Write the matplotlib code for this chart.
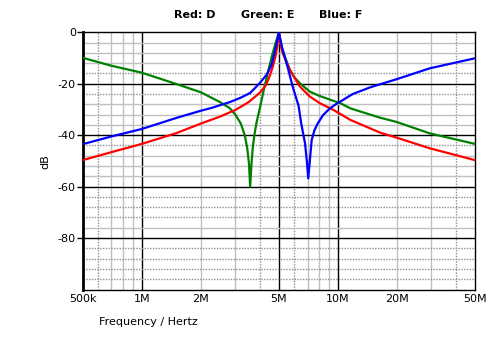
import numpy as np
import matplotlib
matplotlib.use("Agg")
import matplotlib.pyplot as plt

# frequencies in Hz, levels in dB
red_f = [5e5, 7e5, 1e6, 1.5e6, 2e6, 2.5e6, 3e6, 3.5e6, 4e6, 4.3e6, 4.5e6,
         4.65e6, 4.8e6, 4.9e6, 5e6, 5.1e6, 5.2e6, 5.45e6, 5.7e6, 6e6, 6.4e6,
         7.2e6, 8.1e6, 9.5e6, 11.6e6, 16.4e6, 20e6, 29.4e6, 5e7]
red_db = [-49.7, -46.6, -43.4, -39.2, -35.5, -32.8, -30.2, -27.2, -23.5, -20.5, -16.8,
          -13.5, -9.5, -6.0, 0, -4.5, -7.5, -11.5, -14.7, -17.5, -21.1,
          -25.0, -27.6, -30.2, -34.1, -39.0, -41.0, -45.1, -49.7]

green_f = [5e5, 7e5, 1e6, 1.5e6, 2e6, 2.5e6, 2.8e6, 3.0e6, 3.2e6, 3.35e6, 3.45e6,
           3.52e6, 3.57e6, 3.62e6, 3.68e6, 3.75e6, 3.85e6, 4.0e6, 4.2e6, 4.4e6,
           4.6e6, 4.8e6, 5e6, 5.2e6, 5.4e6, 5.7e6, 6.0e6, 6.4e6, 7.2e6, 8.1e6,
           10.3e6, 11.6e6, 16.4e6, 20e6, 29.4e6, 5e7]
green_db = [-9.9, -13.0, -15.7, -20.1, -23.3, -27.1, -29.4, -32.0, -35.5, -40.0, -45.0,
            -51.0, -60.0, -52.0, -45.0, -40.0, -35.0, -29.5, -22.0, -15.5,
            -9.5, -4.5, 0, -6.5, -10.0, -14.7, -17.5, -19.8, -23.1, -24.8,
            -27.6, -29.6, -33.2, -34.9, -39.3, -43.4]

blue_f = [5e5, 7e5, 1e6, 1.5e6, 2e6, 2.27e6, 2.82e6, 3.18e6, 3.57e6, 4e6, 4.33e6,
          4.59e6, 4.77e6, 4.9e6, 5e6, 5.2e6, 5.56e6, 5.9e6, 6.3e6, 6.5e6, 6.8e6,
          6.96e6, 7.06e6, 7.2e6, 7.35e6, 7.6e6, 7.9e6, 8.4e6, 9.1e6, 9.8e6,
          11.9e6, 14.6e6, 20e6, 29.4e6, 5e7]
blue_db = [-43.5, -40.5, -37.6, -33.3, -30.5, -29.4, -27.1, -25.5, -23.6, -19.7, -16.5,
           -12.6, -7.4, -3.5, 0, -6.1, -13.9, -21.5, -28.5, -35.4, -43.2,
           -50.9, -56.8, -49.6, -41.9, -38.0, -35.4, -32.2, -29.6, -27.9,
           -24.0, -21.4, -18.2, -14.0, -10.1]

xticks = [5e5, 1e6, 2e6, 5e6, 1e7, 2e7, 5e7]
xlabels = ["500k", "1M", "2M", "5M", "10M", "20M", "50M"]
yticks = [0, -20, -40, -60, -80]

fig = plt.figure(figsize=(4.95, 3.39), dpi=100)
ax = fig.add_axes([82.7 / 495, 1 - 289.5 / 339, (475 - 82.7) / 495, (289.5 - 32.3) / 339])
ax.set_xscale("log")
ax.set_xlim(5e5, 5e7)
ax.set_ylim(-100, 0)

# grid
minor_v = [6e5, 7e5, 8e5, 9e5, 2e6, 3e6, 4e6, 6e6, 7e6, 8e6, 9e6, 2e7, 3e7, 4e7]
dotted_v = [6e5, 4e6, 6e6, 4e7]
for v in minor_v:
    if v in dotted_v:
        ax.axvline(v, color="#909090", lw=1, ls=(0, (1, 1)), zorder=1)
    else:
        ax.axvline(v, color="#c0c0c0", lw=1, zorder=1)
for v in [1e6, 5e6, 1e7]:
    ax.axvline(v, color="black", lw=1, zorder=1)

dotted_h = [-16, -24, -44, -64, -68, -72, -84, -88, -92, -96]
for h in range(-96, 0, 4):
    if h % 20 == 0:
        ax.axhline(h, color="black", lw=1, zorder=1)
    elif h in dotted_h:
        ax.axhline(h, color="#909090", lw=1, ls=(0, (1, 1)), zorder=1)
    else:
        ax.axhline(h, color="#c0c0c0", lw=1, zorder=1)

ax.plot(green_f, green_db, color="#008000", lw=1.6, zorder=3)
ax.plot(red_f, red_db, color="#ff0000", lw=1.6, zorder=3)
ax.plot(blue_f, blue_db, color="#0000ff", lw=1.6, zorder=4)

ax.set_xticks(xticks)
ax.set_xticklabels(xlabels)
ax.xaxis.set_minor_locator(matplotlib.ticker.NullLocator())
ax.set_yticks(yticks)
ax.set_yticklabels([str(t) for t in yticks])
ax.tick_params(axis="x", length=0, pad=3, labelsize=8)
ax.tick_params(axis="y", length=4, width=1, pad=1, labelsize=8)

for s in ["top", "right", "bottom"]:
    ax.spines[s].set_linewidth(1)
ax.spines["left"].set_linewidth(2)

fig.text(174 / 495, 1 - 15 / 339, "Red: D", fontsize=8, fontweight="bold", va="center", ha="left")
fig.text(241 / 495, 1 - 15 / 339, "Green: E", fontsize=8, fontweight="bold", va="center", ha="left")
fig.text(319 / 495, 1 - 15 / 339, "Blue: F", fontsize=8, fontweight="bold", va="center", ha="left")
fig.text(45 / 495, 1 - 162 / 339, "dB", fontsize=8, rotation=90, va="center", ha="center")
fig.text(99 / 495, 1 - 322 / 339, "Frequency / Hertz", fontsize=8, va="center", ha="left")

fig.savefig("out.png", dpi=100)
